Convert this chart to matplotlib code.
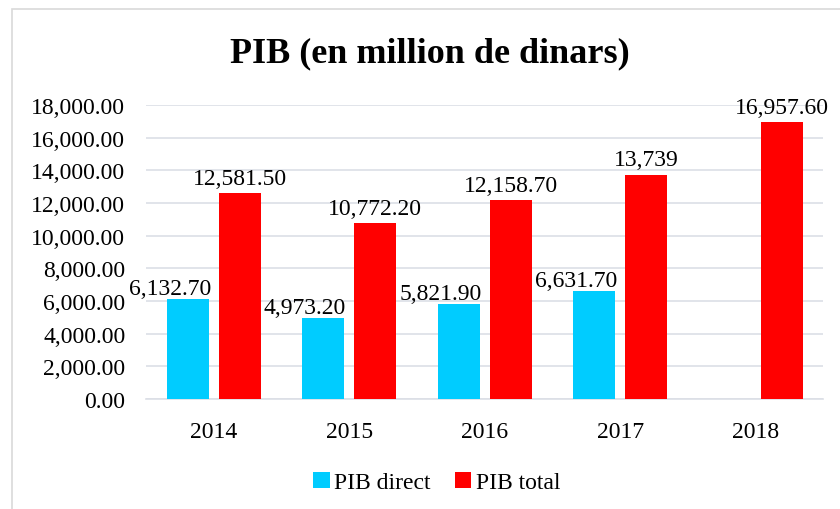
import matplotlib.pyplot as plt
import numpy as np
from matplotlib.patches import Rectangle
from matplotlib.ticker import FuncFormatter

plt.rcParams['font.family'] = ['Liberation Serif', 'DejaVu Serif']

# data
years = ["2014", "2015", "2016", "2017", "2018"]
pib_direct = [6132.70, 4973.20, 5821.90, 6631.70, np.nan]
pib_total = [12581.50, 10772.20, 12158.70, 13739, 16957.60]
direct_labels = ["6,132.70", "4,973.20", "5,821.90", "6,631.70", ""]
total_labels = ["12,581.50", "10,772.20", "12,158.70", "13,739", "16,957.60"]

cyan = "#00CCFF"
red = "#FF0000"
grid_col = "#DCDFE6"

fig = plt.figure(figsize=(8.4, 5.1), dpi=100)
ax = fig.add_axes([0.174, 0.2157, 0.806, 0.5765])

# chart area outline (cropped on the right/bottom like the source)
fig.patches.append(Rectangle((12 / 840, -0.05), 1.2, 1 - 10 / 510 + 0.05,
                             transform=fig.transFigure, fill=False,
                             edgecolor="#D9D9D9", linewidth=1.2))

x = np.arange(len(years))
w = 0.31
off = 0.193
b1 = ax.bar(x - off, pib_direct, w, color=cyan, label="PIB direct", zorder=3)
b2 = ax.bar(x + off, pib_total, w, color=red, label="PIB total", zorder=3)

for xi, v, lab in zip(x, pib_direct, direct_labels):
    if lab:
        ax.annotate(lab, (xi - off, v), xytext=(-13, 0), textcoords="offset points",
                    ha="center", va="bottom", fontsize=17, zorder=4)
for xi, v, lab in zip(x, pib_total, total_labels):
    ax.annotate(lab, (xi + off, v), xytext=(0, 3), textcoords="offset points",
                ha="center", va="bottom", fontsize=17, annotation_clip=False, zorder=4)

ax.set_xlim(-0.5, len(years) - 0.5)
ax.set_ylim(0, 18000)
ax.set_yticks(np.arange(0, 18001, 2000))
ax.yaxis.set_major_formatter(FuncFormatter(lambda v, p: f"{v:,.2f}"))
ax.set_xticks(x)
ax.set_xticklabels(years)
ax.tick_params(axis="both", length=0, labelsize=17)
ax.tick_params(axis="x", pad=16)
ax.tick_params(axis="y", pad=15)
ax.yaxis.grid(True, color=grid_col, linewidth=1.2, zorder=0)
for side in ["top", "right", "left"]:
    ax.spines[side].set_visible(False)
ax.spines["bottom"].set_color(grid_col)
ax.spines["bottom"].set_linewidth(1.2)

fig.text(0.512, 0.895, "PIB (en million de dinars)", ha="center", va="center",
         fontsize=26, fontweight="bold")

fig.legend(handles=[b1, b2], loc="center", bbox_to_anchor=(0.52, 0.052), ncol=2,
           frameon=False, fontsize=17, handlelength=0.7, handleheight=0.7,
           handletextpad=0.2, columnspacing=1.0)

fig.savefig("out.png", dpi=100)
